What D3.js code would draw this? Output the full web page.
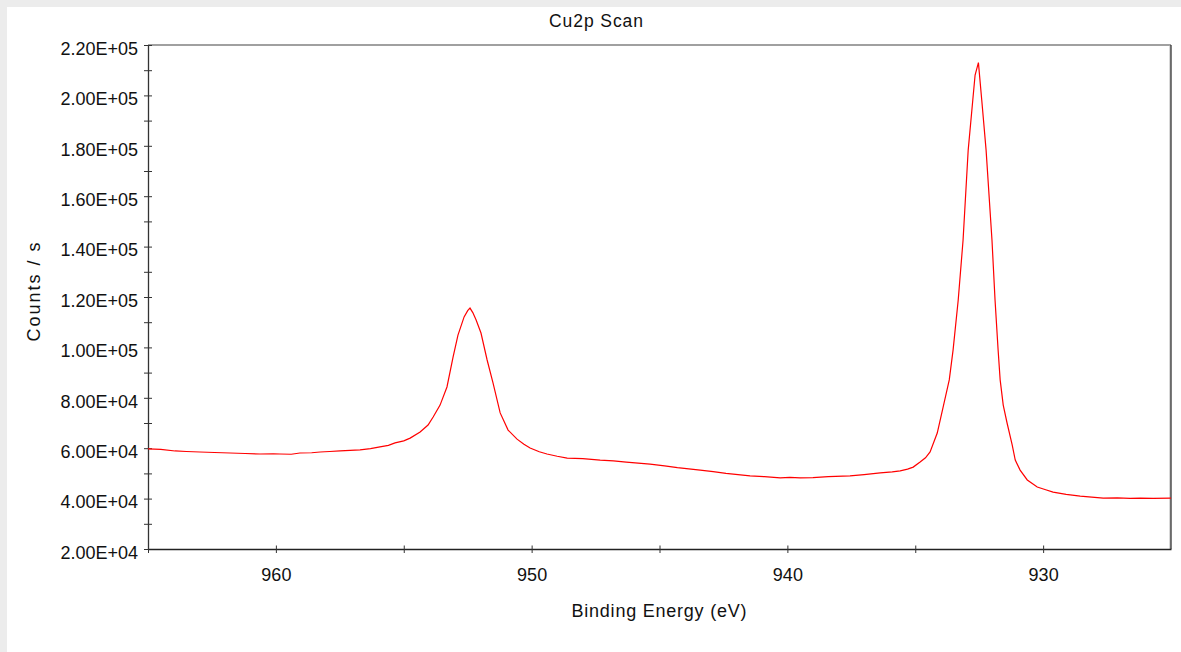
<!DOCTYPE html>
<html>
<head>
<meta charset="utf-8">
<script src="https://cdn.jsdelivr.net/npm/d3@7"></script>
<style>
  html, body { margin: 0; padding: 0; background: #fff; }
  svg { display: block; font-family: "Liberation Sans", Arial, sans-serif; }
</style>
</head>
<body>
<svg id="chart" width="1181" height="652"></svg>
<script>
const chartTitle = "Cu2p Scan";
const xLabel = "Binding Energy (eV)";
const yLabel = "Counts / s";

const xMajorTicks = [960, 950, 940, 930];
const xMinorTicks = [965, 955, 945, 935];
const yMajorTicks = [20000, 40000, 60000, 80000, 100000, 120000, 140000, 160000, 180000, 200000, 220000];
const yMinorTicks = [30000, 50000, 70000, 90000, 110000, 130000, 150000, 170000, 190000, 210000];

const bindingEnergy = [
  965.00, 964.50, 963.94, 963.50, 962.97, 962.40, 961.79, 961.20, 960.62, 960.10, 959.84, 959.40, 959.06,
  958.60, 958.27, 957.90, 957.49, 957.10, 956.71, 956.30, 955.93, 955.60, 955.34, 955.00, 954.75, 954.36,
  954.05, 953.85, 953.58, 953.31, 953.07, 952.88, 952.64, 952.50, 952.41, 952.30, 952.17, 951.98, 951.74,
  951.51, 951.23, 950.92, 950.57, 950.30, 950.06, 949.70, 949.40, 949.00, 948.61, 948.00, 947.32, 946.80,
  946.30, 945.37, 944.80, 944.30, 943.41, 942.90, 942.40, 941.46, 940.90, 940.28, 939.90, 939.50, 939.00,
  938.40, 937.55, 937.00, 936.37, 935.90, 935.59, 935.30, 935.08, 934.81, 934.60, 934.42, 934.14, 933.91,
  933.67, 933.52, 933.32, 933.13, 932.93, 932.75, 932.66, 932.53, 932.40, 932.23, 932.00, 931.88, 931.76,
  931.68, 931.56, 931.41, 931.21, 931.09, 930.90, 930.62, 930.23, 929.90, 929.61, 929.10, 928.55, 928.10,
  927.65, 927.10, 926.60, 926.20, 925.70, 925.00
];

const countsPerSecond = [
  59700, 59500, 58900, 58700, 58500, 58300, 58100, 57900, 57700, 57800, 57700, 57600, 58100,
  58200, 58500, 58700, 58900, 59100, 59300, 59800, 60500, 61100, 62100, 62900, 64000, 66400,
  69200, 72400, 77100, 84300, 96200, 104900, 112100, 114600, 115600, 113800, 110900, 105700, 95000,
  85900, 74000, 67200, 63600, 61600, 60100, 58600, 57700, 56800, 56100, 55900, 55300, 55000,
  54500, 53700, 53000, 52300, 51300, 50700, 50000, 49000, 48700, 48200, 48400, 48200, 48300,
  48700, 49000, 49500, 50200, 50600, 51000, 51700, 52500, 54500, 56200, 58500, 66000, 76300,
  87100, 99000, 118800, 142600, 178300, 198200, 208100, 213000, 198200, 178300, 142600, 118800, 99000,
  87100, 77100, 70000, 61300, 55300, 51300, 47400, 44600, 43500, 42600, 41700, 41000, 40600,
  40200, 40300, 40100, 40200, 40100, 40200
];

const W = 1181, H = 652;
const m = { left: 148, right: 1171, top: 45, bottom: 549 };
const FS = 18;

const svg = d3.select("#chart");

// page background (light gray frame top/left)
svg.append("rect").attr("x", 0).attr("y", 0).attr("width", W).attr("height", H).attr("fill", "#ececec");
svg.append("rect").attr("x", 7).attr("y", 7).attr("width", W - 7).attr("height", H - 7).attr("fill", "#ffffff");

const x = d3.scaleLinear().domain([965, 925]).range([m.left, m.right]);
const y = d3.scaleLinear().domain([20000, 220000]).range([m.bottom, m.top]);

const fmtExp = v => {
  const s = v.toExponential(2).toUpperCase();
  const [mant, ex] = s.split("E");
  const sign = ex[0];
  const digits = ex.slice(1).padStart(2, "0");
  return mant + "E" + sign + digits;
};

// frame: top gray, right dark
svg.append("line").attr("x1", m.left).attr("x2", m.right).attr("y1", m.top).attr("y2", m.top)
  .attr("stroke", "#808080").attr("stroke-width", 1.5);
svg.append("line").attr("x1", m.right - 1).attr("x2", m.right - 1).attr("y1", m.top).attr("y2", m.bottom)
  .attr("stroke", "#b0b0b0").attr("stroke-width", 1);
svg.append("line").attr("x1", m.right).attr("x2", m.right).attr("y1", m.top).attr("y2", m.bottom)
  .attr("stroke", "#222").attr("stroke-width", 1.2);

// Y axis
const yAxisG = svg.append("g").attr("transform", `translate(${m.left},0)`);
yAxisG.call(d3.axisLeft(y).tickValues(yMajorTicks).tickFormat(fmtExp).tickSizeOuter(0).tickSizeInner(4).tickPadding(6));
yAxisG.select(".domain").attr("stroke", "#333").attr("stroke-width", 1.3);
yAxisG.selectAll(".tick line").attr("x2", -4).attr("x1", 4).attr("stroke", "#333");
yAxisG.selectAll(".tick text")
  .attr("font-size", FS).attr("fill", "#111").attr("dy", "0.52em")
  .attr("font-family", "'Liberation Sans', Arial, sans-serif");
const yMinorG = svg.append("g").attr("transform", `translate(${m.left},0)`);
yMinorG.call(d3.axisLeft(y).tickValues(yMinorTicks).tickFormat("").tickSizeOuter(0).tickSizeInner(4));
yMinorG.select(".domain").remove();
yMinorG.selectAll(".tick line").attr("x2", -4).attr("x1", 4).attr("stroke", "#333");

// X axis
const xAxisG = svg.append("g").attr("transform", `translate(0,${m.bottom})`);
xAxisG.call(d3.axisBottom(x).tickValues(xMajorTicks).tickFormat(d3.format("d")).tickSizeOuter(0).tickSizeInner(4).tickPadding(15));
xAxisG.select(".domain").attr("stroke", "#222").attr("stroke-width", 1.3);
xAxisG.selectAll(".tick line").attr("y1", -3.5).attr("y2", 4).attr("stroke", "#333");
xAxisG.selectAll(".tick text")
  .attr("font-size", FS).attr("fill", "#111")
  .attr("font-family", "'Liberation Sans', Arial, sans-serif");
const xMinorG = svg.append("g").attr("transform", `translate(0,${m.bottom})`);
xMinorG.call(d3.axisBottom(x).tickValues(xMinorTicks).tickFormat("").tickSizeOuter(0).tickSizeInner(4));
xMinorG.select(".domain").remove();
xMinorG.selectAll(".tick line").attr("y1", -3.5).attr("y2", 4).attr("stroke", "#333");

// data line
const line = d3.line().x((d, i) => x(bindingEnergy[i])).y(d => y(d)).curve(d3.curveLinear);
svg.append("path").datum(countsPerSecond)
  .attr("d", line).attr("fill", "none").attr("stroke", "#ff0000").attr("stroke-width", 1.2);

// Title
svg.append("text").attr("x", 596).attr("y", 27).attr("text-anchor", "middle")
  .attr("font-size", 17.5).attr("fill", "#111").attr("textLength", 94).attr("lengthAdjust", "spacing")
  .text(chartTitle);

// X label
svg.append("text").attr("x", 659).attr("y", 617).attr("text-anchor", "middle")
  .attr("font-size", FS).attr("fill", "#111").attr("textLength", 175).attr("lengthAdjust", "spacing")
  .text(xLabel);

// Y label
svg.append("text").attr("transform", "translate(40,292) rotate(-90)").attr("text-anchor", "middle")
  .attr("font-size", FS).attr("fill", "#111").attr("textLength", 99).attr("lengthAdjust", "spacing")
  .text(yLabel);
</script>
</body>
</html>
